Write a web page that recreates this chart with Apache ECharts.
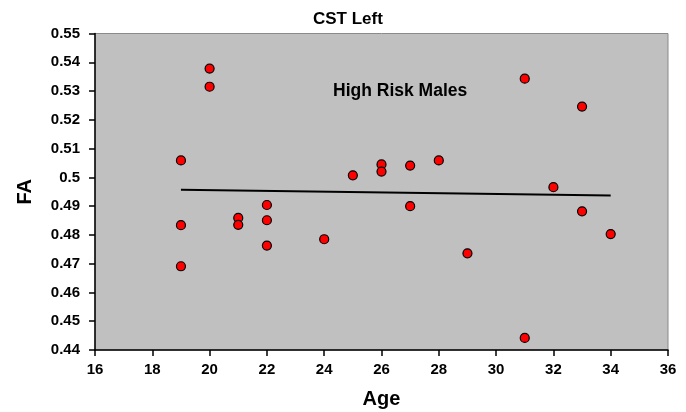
<!DOCTYPE html>
<html>
<head>
<meta charset="utf-8">
<script src="https://cdn.jsdelivr.net/npm/echarts@6/dist/echarts.min.js"></script>
<style>
html,body{margin:0;padding:0;background:#fff;}
#chart{width:686px;height:412px;}
</style>
</head>
<body>
<div id="chart"></div>
<script>
// Data
var ages = [19, 19, 19, 20, 20, 21, 21, 22, 22, 22, 24, 25, 26, 26, 27, 27, 28, 29, 31, 31, 32, 33, 33, 34];
var faValues = [0.5059, 0.4834, 0.4691, 0.5378, 0.5315, 0.4859, 0.4835, 0.4904, 0.4851, 0.4763, 0.4785, 0.5007, 0.5045, 0.5020, 0.5041, 0.4900, 0.5059, 0.4736, 0.5343, 0.4442, 0.4966, 0.5246, 0.4882, 0.4803];
var trendAges = [19, 34];
var trendValues = [0.4957, 0.4937];
var xTicks = [16, 18, 20, 22, 24, 26, 28, 30, 32, 34, 36];
var yTicks = [0.44, 0.45, 0.46, 0.47, 0.48, 0.49, 0.5, 0.51, 0.52, 0.53, 0.54, 0.55];
var chartTitle = 'CST Left';
var annotation = 'High Risk Males';

var scatterData = ages.map(function (a, i) { return [a, faValues[i]]; });
var trendData = trendAges.map(function (a, i) { return [a, trendValues[i]]; });

var chart = echarts.init(document.getElementById('chart'), null, {renderer: 'canvas'});
var font = 'Liberation Sans, Arial, sans-serif';
chart.setOption({
  animation: false,
  backgroundColor: '#ffffff',
  grid: {
    left: 95, top: 33.5, right: 18, bottom: 62,
    outerBoundsMode: 'none', containLabel: false,
    show: true, backgroundColor: '#c0c0c0', borderColor: '#8a8a8a', borderWidth: 1
  },
  xAxis: {
    type: 'value', min: xTicks[0], max: xTicks[xTicks.length - 1], interval: 2,
    name: 'Age', nameLocation: 'middle', nameGap: 39,
    nameTextStyle: {fontFamily: font, fontWeight: 'bold', fontSize: 20, color: '#000'},
    axisLine: {show: true, lineStyle: {color: '#000', width: 1.5}},
    axisTick: {show: true, length: 6, lineStyle: {color: '#000', width: 1.5}},
    axisLabel: {fontFamily: font, fontWeight: 'bold', fontSize: 15, color: '#000', margin: 12},
    splitLine: {show: false}
  },
  yAxis: {
    type: 'value', min: yTicks[0], max: yTicks[yTicks.length - 1], interval: 0.01,
    name: 'FA', nameLocation: 'middle', nameGap: 60, nameRotate: 90,
    nameTextStyle: {fontFamily: font, fontWeight: 'bold', fontSize: 20, color: '#000'},
    axisLine: {show: true, lineStyle: {color: '#000', width: 1.5}},
    axisTick: {show: true, length: 6, lineStyle: {color: '#000', width: 1.5}},
    axisLabel: {fontFamily: font, fontWeight: 'bold', fontSize: 15, color: '#000', margin: 15,
      formatter: function (v) { return String(Math.round(v * 100) / 100); }},
    splitLine: {show: false}
  },
  graphic: [
    {type: 'text', left: 313, top: 11, style: {text: chartTitle, font: 'bold 17px ' + font, fill: '#000'}},
    {type: 'text', left: 333, top: 82, style: {text: annotation, font: 'bold 17.5px ' + font, fill: '#000'}}
  ],
  series: [
    {
      type: 'line', data: trendData, symbol: 'none',
      lineStyle: {color: '#000', width: 2}, z: 2
    },
    {
      type: 'scatter', data: scatterData, symbol: 'circle', symbolSize: 9,
      itemStyle: {color: '#ff0000', borderColor: '#000', borderWidth: 1.2, opacity: 1}, z: 3
    }
  ]
});
</script>
</body>
</html>
